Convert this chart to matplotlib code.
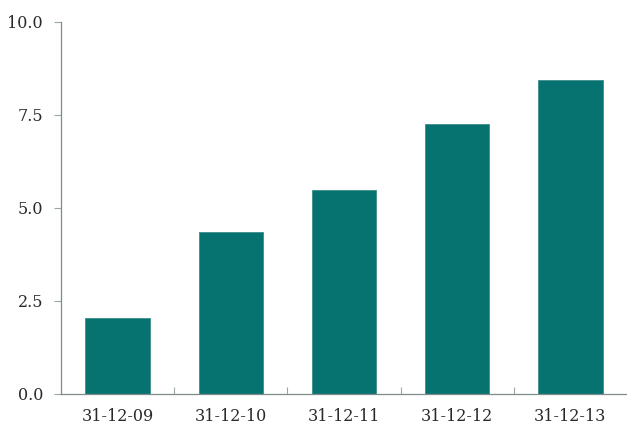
import matplotlib.pyplot as plt
from matplotlib.ticker import FixedLocator

dates = ['31-12-09', '31-12-10', '31-12-11', '31-12-12', '31-12-13']
values = [2.04, 4.35, 5.48, 7.25, 8.43]
yticks = [0.0, 2.5, 5.0, 7.5, 10.0]

plt.rcParams['font.family'] = ['DejaVu Serif']

fig = plt.figure(figsize=(6.27, 4.24), dpi=100)
ax = fig.add_axes([0.0973, 0.0708, 0.9027, 0.8774])

x = list(range(len(dates)))
ax.bar(x, values, width=0.57, color='#077370', edgecolor='#3a8f8b', linewidth=0.6)

ax.set_xlim(-0.5, len(dates) - 0.5)
ax.set_ylim(0, 10)
ax.set_yticks(yticks)
ax.set_yticklabels([f'{v:.1f}' for v in yticks])
ax.set_xticks(x)
ax.set_xticklabels(dates)

# boundary ticks between categories on the x axis
ax.xaxis.set_minor_locator(FixedLocator([i + 0.5 for i in x[:-1]]))
ax.tick_params(axis='x', which='major', length=0, pad=10, labelsize=11.5, labelcolor='#2a2a2a')
ax.tick_params(axis='x', which='minor', direction='in', length=5, color='#9aa5a5', width=0.8)
ax.tick_params(axis='y', length=5, color='#9aa5a5', width=0.8, labelsize=11.5,
               labelcolor='#2a2a2a', pad=8)

for s in ['top', 'right']:
    ax.spines[s].set_visible(False)
for s in ['left', 'bottom']:
    ax.spines[s].set_color('#7f8c8c')
    ax.spines[s].set_linewidth(0.9)

plt.savefig('out.png', dpi=100)
